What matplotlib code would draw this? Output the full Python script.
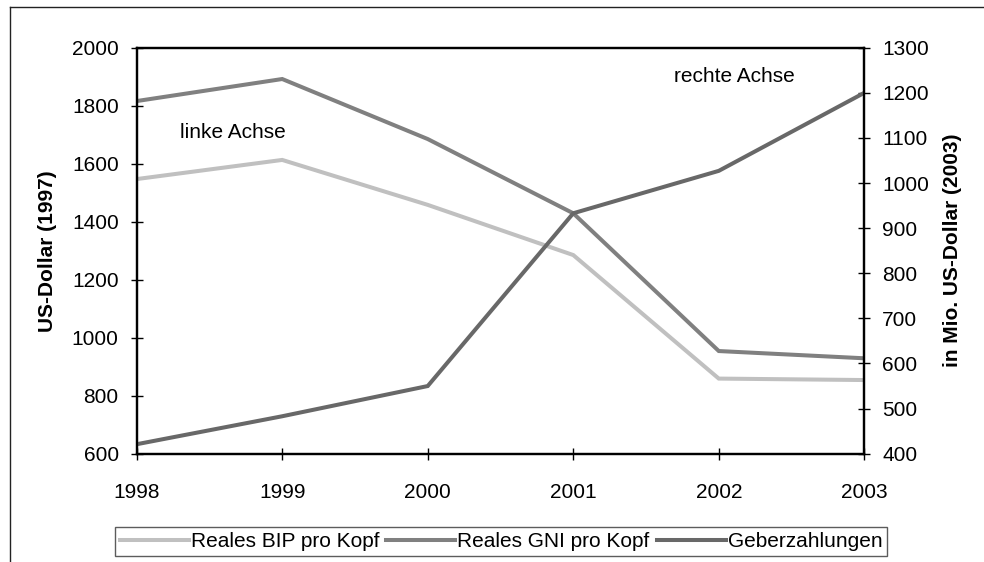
import matplotlib
matplotlib.use("Agg")
import matplotlib.pyplot as plt
from matplotlib.lines import Line2D

plt.rcParams['font.family'] = ['Liberation Sans', 'DejaVu Sans']

years = [1998, 1999, 2000, 2001, 2002, 2003]
bip = [1547, 1613, 1458, 1285, 859, 854]
gni = [1816, 1892, 1685, 1429, 954, 929]
geber = [421, 483, 550, 933, 1027, 1200]

left_ticks = [600, 800, 1000, 1200, 1400, 1600, 1800, 2000]
right_ticks = [400, 500, 600, 700, 800, 900, 1000, 1100, 1200, 1300]

W, H = 984, 562
fig = plt.figure(figsize=(W/100, H/100), dpi=100)
ax = fig.add_axes([136.7/W, 1-453.7/H, (864.3-136.7)/W, (453.7-47.7)/H])
ax2 = ax.twinx()

# outer frame
fig.add_artist(Line2D([10/W, 1.0], [1-7/H, 1-7/H], transform=fig.transFigure, color='#222222', lw=1.0))
fig.add_artist(Line2D([10/W, 10/W], [1-7/H, 0.0], transform=fig.transFigure, color='#222222', lw=1.0))

lw = 2.9
l1, = ax.plot(years, bip, color='#c0c0c0', lw=lw, solid_joinstyle='miter', label='Reales BIP pro Kopf')
l2, = ax.plot(years, gni, color='#808080', lw=lw, solid_joinstyle='miter', label='Reales GNI pro Kopf')
l3, = ax2.plot(years, geber, color='#686868', lw=lw, solid_joinstyle='miter', label='Geberzahlungen')

ax.set_xlim(1998, 2003)
ax.set_ylim(600, 2000)
ax2.set_ylim(400, 1300)
ax.set_xticks(years)
ax.set_xticklabels([str(y) for y in years])
ax.set_yticks(left_ticks)
ax2.set_yticks(right_ticks)

fs = 15
for a in (ax, ax2):
    for s in a.spines.values():
        s.set_linewidth(1.6)
        s.set_color('black')
    a.tick_params(direction='inout', length=8, width=1.0, labelsize=fs, colors='black')
ax.tick_params(axis='x', pad=17)
ax.tick_params(axis='y', pad=9)
ax2.tick_params(axis='y', pad=9)

ax.set_ylabel('US-Dollar (1997)', fontsize=fs, fontweight='bold')
ax.yaxis.set_label_coords(-0.110, 0.5)
ax2.set_ylabel('in Mio. US-Dollar (2003)', fontsize=fs, fontweight='bold', rotation=90)
ax2.yaxis.set_label_coords(1.108, 0.5)

ax.text(0.0595, 0.79, 'linke Achse', transform=ax.transAxes, fontsize=fs, va='center', ha='left')
ax.text(0.738, 0.928, 'rechte Achse', transform=ax.transAxes, fontsize=fs, va='center', ha='left')

leg = fig.legend(handles=[l1, l2, l3], loc='center', bbox_to_anchor=(501/W, 1-541.5/H),
                 ncol=3, fontsize=fs, frameon=True, fancybox=False, edgecolor='#333333',
                 handlelength=3.3, handletextpad=0.1, columnspacing=0.35, borderpad=0.25,
                 borderaxespad=0)
leg.get_frame().set_linewidth(1.0)

fig.savefig('out.png', dpi=100)
